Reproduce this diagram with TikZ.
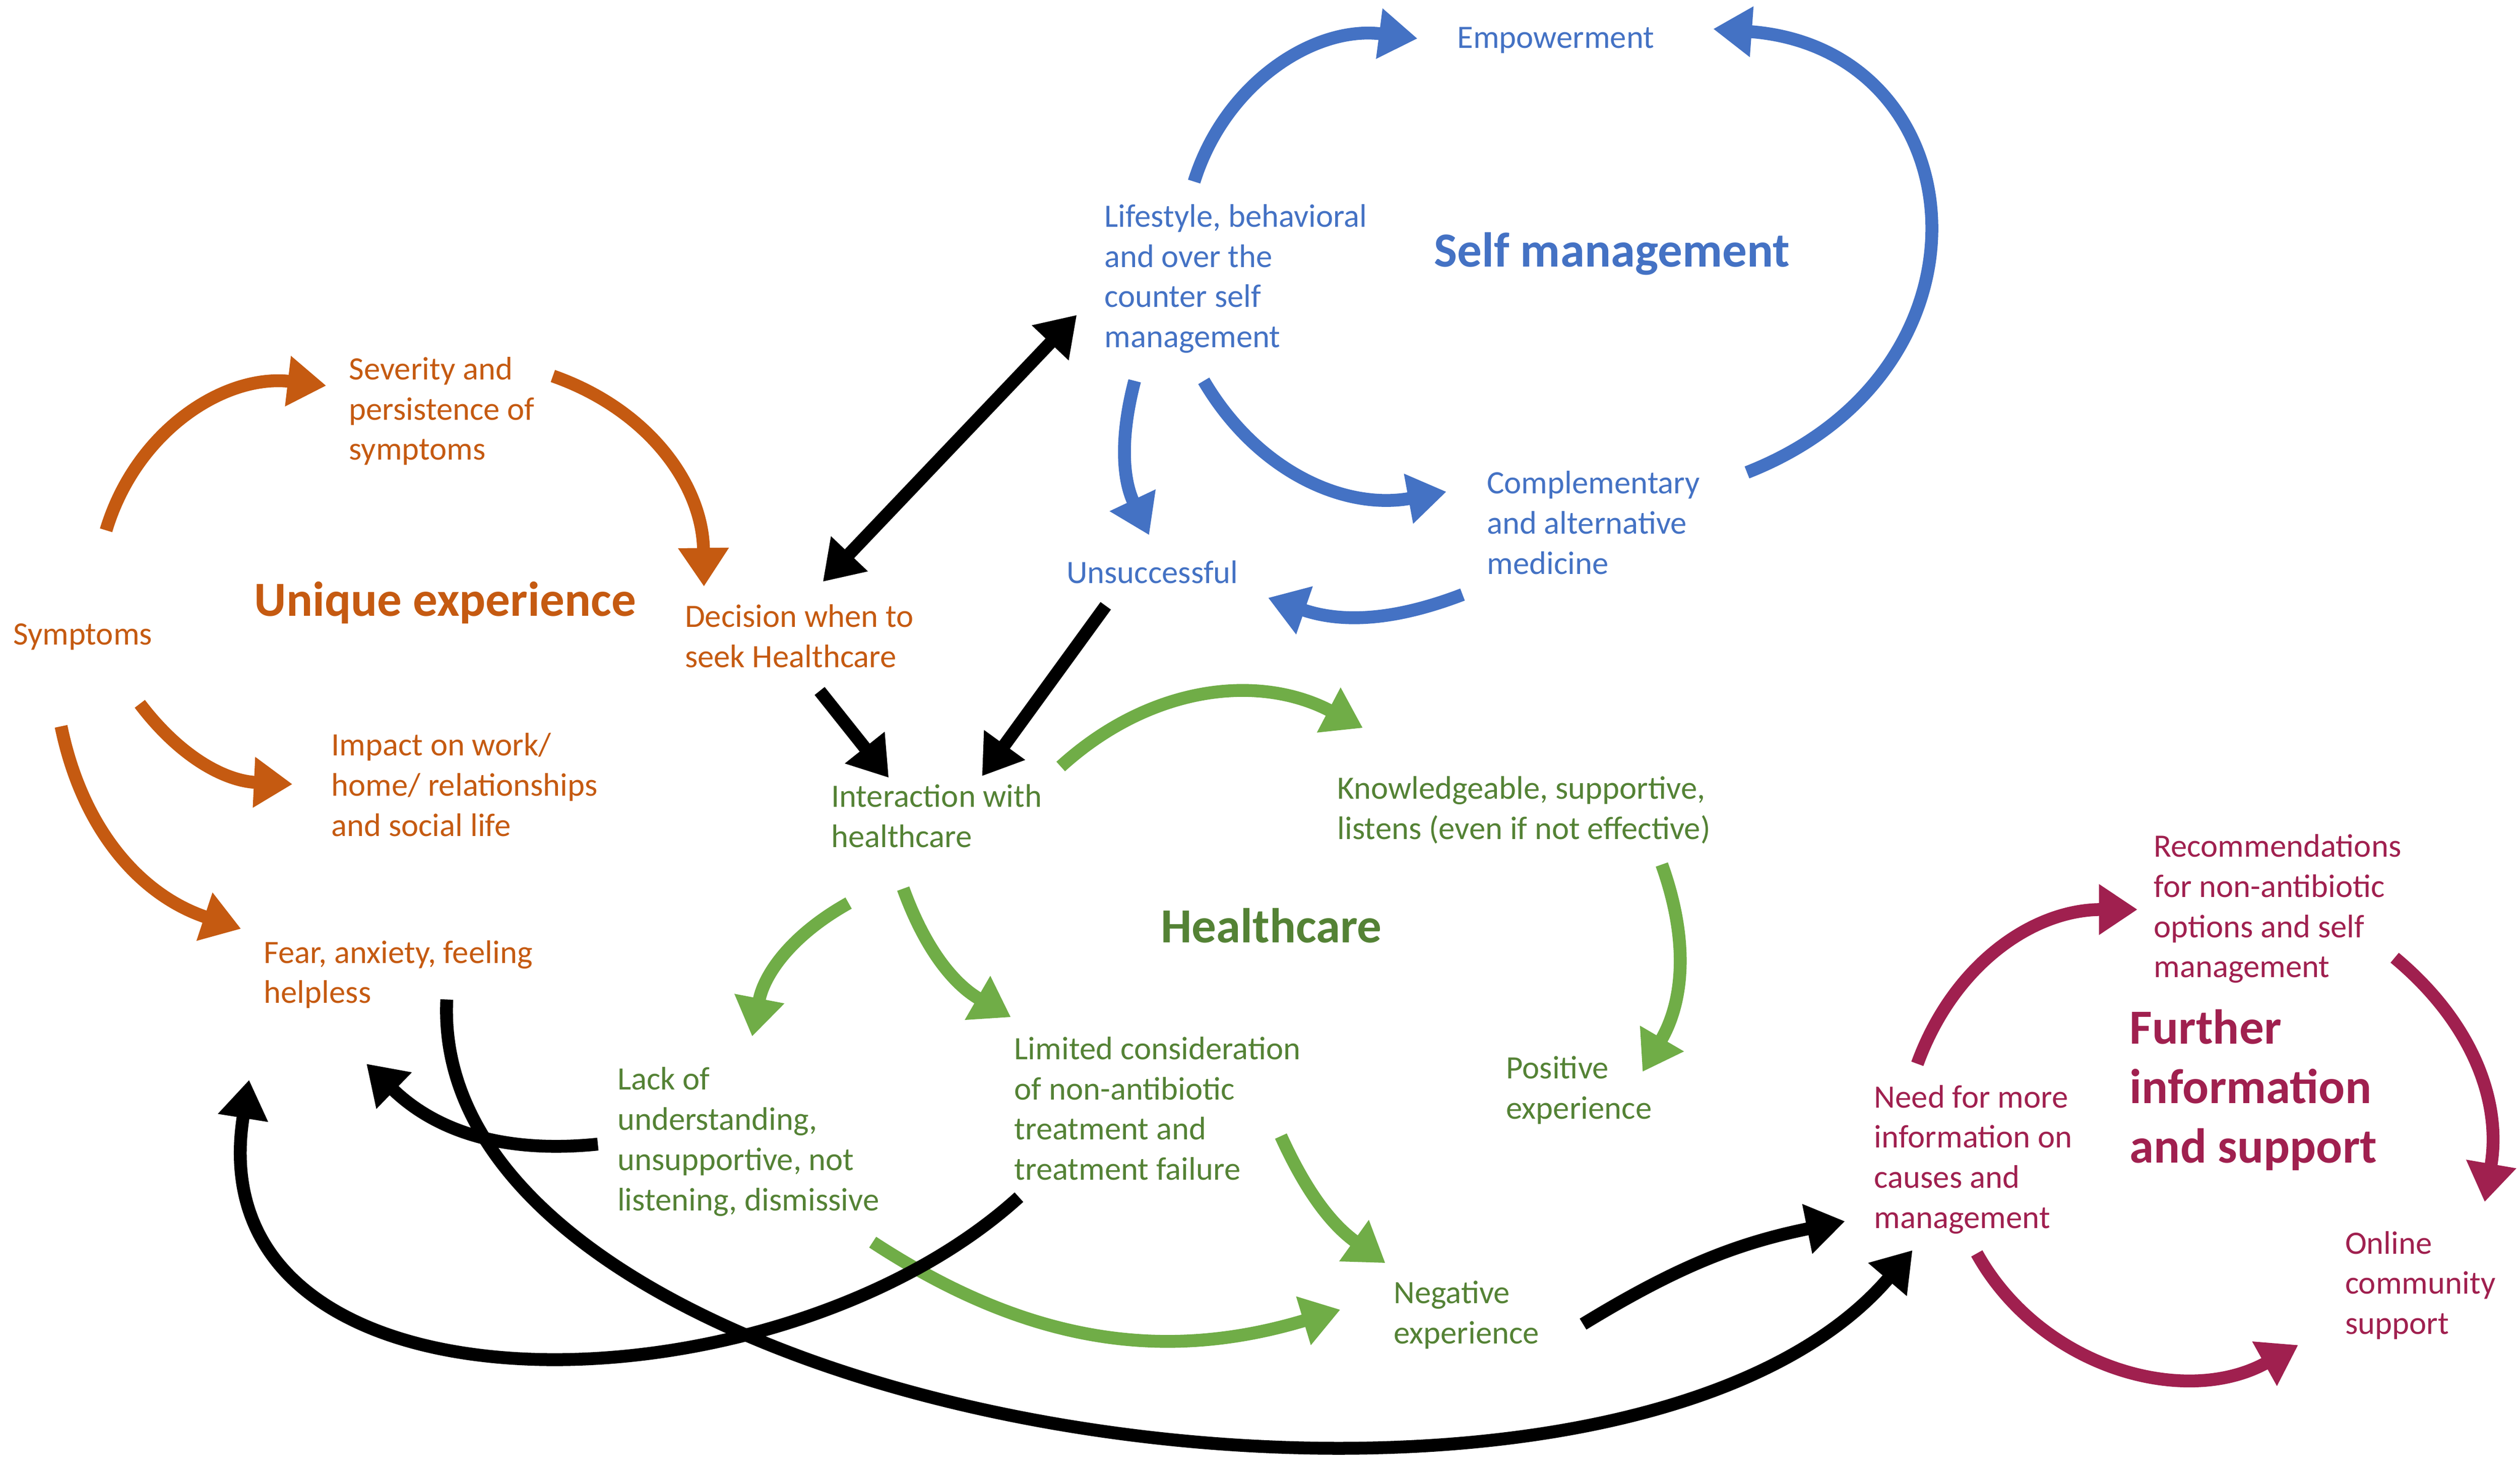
\documentclass[tikz,border=0pt]{standalone}
\usepackage{fontspec}
\setmainfont{Carlito}
\usetikzlibrary{arrows.meta}
\definecolor{cor}{HTML}{C55A11}
\definecolor{cbl}{HTML}{4472C4}
\definecolor{cgr}{HTML}{70AD47}
\definecolor{cgt}{HTML}{548235}
\definecolor{cma}{HTML}{A0204F}
\begin{document}
\begin{tikzpicture}[x=1pt,y=-1pt,
  lbl/.style={anchor=north west,align=left,font=\fontsize{20.3}{25}\selectfont,inner sep=0pt},
  head/.style={font=\fontsize{30.5}{37}\selectfont\bfseries,inner sep=0pt,align=left},
  arr/.style={line width=8pt,-{Triangle[length=24pt,width=30pt]}},
  darr/.style={line width=8pt,{Triangle[length=24pt,width=30pt]}-{Triangle[length=24pt,width=30pt]}}]
\useasboundingbox (0,0) rectangle (1568,917);
% labels
\node[lbl,text=cor] (sym) at (8,388) {Symptoms};
\node[lbl,text=cor] (sev) at (217,222) {Severity and\\persistence of\\symptoms};
\node[head,text=cor] (ue) at (277,375) {Unique experience};
\node[lbl,text=cor] (dec) at (426,376) {Decision when to\\seek Healthcare};
\node[lbl,text=cor] (imp) at (206,456) {Impact on work/\\home/ relationships\\and social life};
\node[lbl,text=cor] (fear) at (164,585) {Fear, anxiety, feeling\\helpless};
\node[lbl,text=cbl] (life) at (687,127) {Lifestyle, behavioral\\and over the\\counter self\\management};
\node[lbl,text=cbl,anchor=center] (emp) at (968,25) {Empowerment};
\node[head,text=cbl] (sm) at (1003,158) {Self management};
\node[lbl,text=cbl,anchor=center] (uns) at (717,356) {Unsuccessful};
\node[lbl,text=cbl] (comp) at (925,293) {Complementary\\and alternative\\medicine};
\node[lbl,text=cgt] (int) at (517,488) {Interaction with\\healthcare};
\node[lbl,text=cgt] (know) at (832,483) {Knowledgeable, supportive,\\listens (even if not effective)};
\node[head,text=cgt] (hc) at (791,576) {Healthcare};
\node[lbl,text=cgt] (lack) at (384,664) {Lack of\\understanding,\\unsupportive, not\\listening, dismissive};
\node[lbl,text=cgt] (lim) at (631,645) {Limited consideration\\of non-antibiotic\\treatment and\\treatment failure};
\node[lbl,text=cgt] (pos) at (937,657) {Positive\\experience};
\node[lbl,text=cgt] (neg) at (867,797) {Negative\\experience};
\node[lbl,text=cma] (rec) at (1340,519) {Recommendations\\for non-antibiotic\\options and self\\management};
\node[head,text=cma,anchor=north west] (fis) at (1325,628) {Further\\information\\and support};
\node[lbl,text=cma] (need) at (1166,675) {Need for more\\information on\\causes and\\management};
\node[lbl,text=cma] (onl) at (1459,766) {Online\\community\\support};
% orange
\draw[arr,cor] (66,330) to[bend left=40] (203,240);
\draw[arr,cor] (344,234) to[bend left=35] (438,365);
\draw[arr,cor] (87,438) to[bend right=25] (182,488);
\draw[arr,cor] (38,452) to[bend right=30] (150,578);
% blue
\draw[arr,cbl] (743,113) to[bend left=40] (882,24);
\draw[arr,cbl] (1087,294) .. controls (1250,230) and (1230,30) .. (1066,18);
\draw[arr,cbl] (706,237) to[bend right=20] (715,333);
\draw[arr,cbl] (749,237) to[bend right=35] (900,306);
\draw[arr,cbl] (910,370) to[bend left=20] (789,372);
% black
\draw[darr,black] (670,196) -- (512,362);
\draw[arr,black] (510,430) -- (553,484);
\draw[arr,black] (688,377) -- (611,483);
% green
\draw[arr,cgr] (660,477) to[bend left=35] (848,453);
\draw[arr,cgr] (1034,538) to[bend left=25] (1022,667);
\draw[arr,cgr] (528,562) to[bend right=25] (468,645);
\draw[arr,cgr] (562,553) to[bend right=20] (629,633);
\draw[arr,cgr] (797,707) to[bend right=15] (862,786);
\draw[arr,cgr] (543,773) to[bend right=25] (834,815);
% black long
\draw[arr,black] (372,712) to[bend left=25] (228,662);
\draw[arr,black] (634,745) .. controls (480,885) and (120,890) .. (155,672);
\draw[arr,black] (278,622) .. controls (265,890) and (1000,1000) .. (1190,778);
\draw[arr,black] (985,824) to[bend left=10] (1148,760);
% maroon
\draw[arr,cma] (1193,662) to[bend left=35] (1330,566);
\draw[arr,cma] (1490,596) to[bend left=30] (1546,748);
\draw[arr,cma] (1230,780) to[bend right=45] (1430,837);
\end{tikzpicture}
\end{document}
